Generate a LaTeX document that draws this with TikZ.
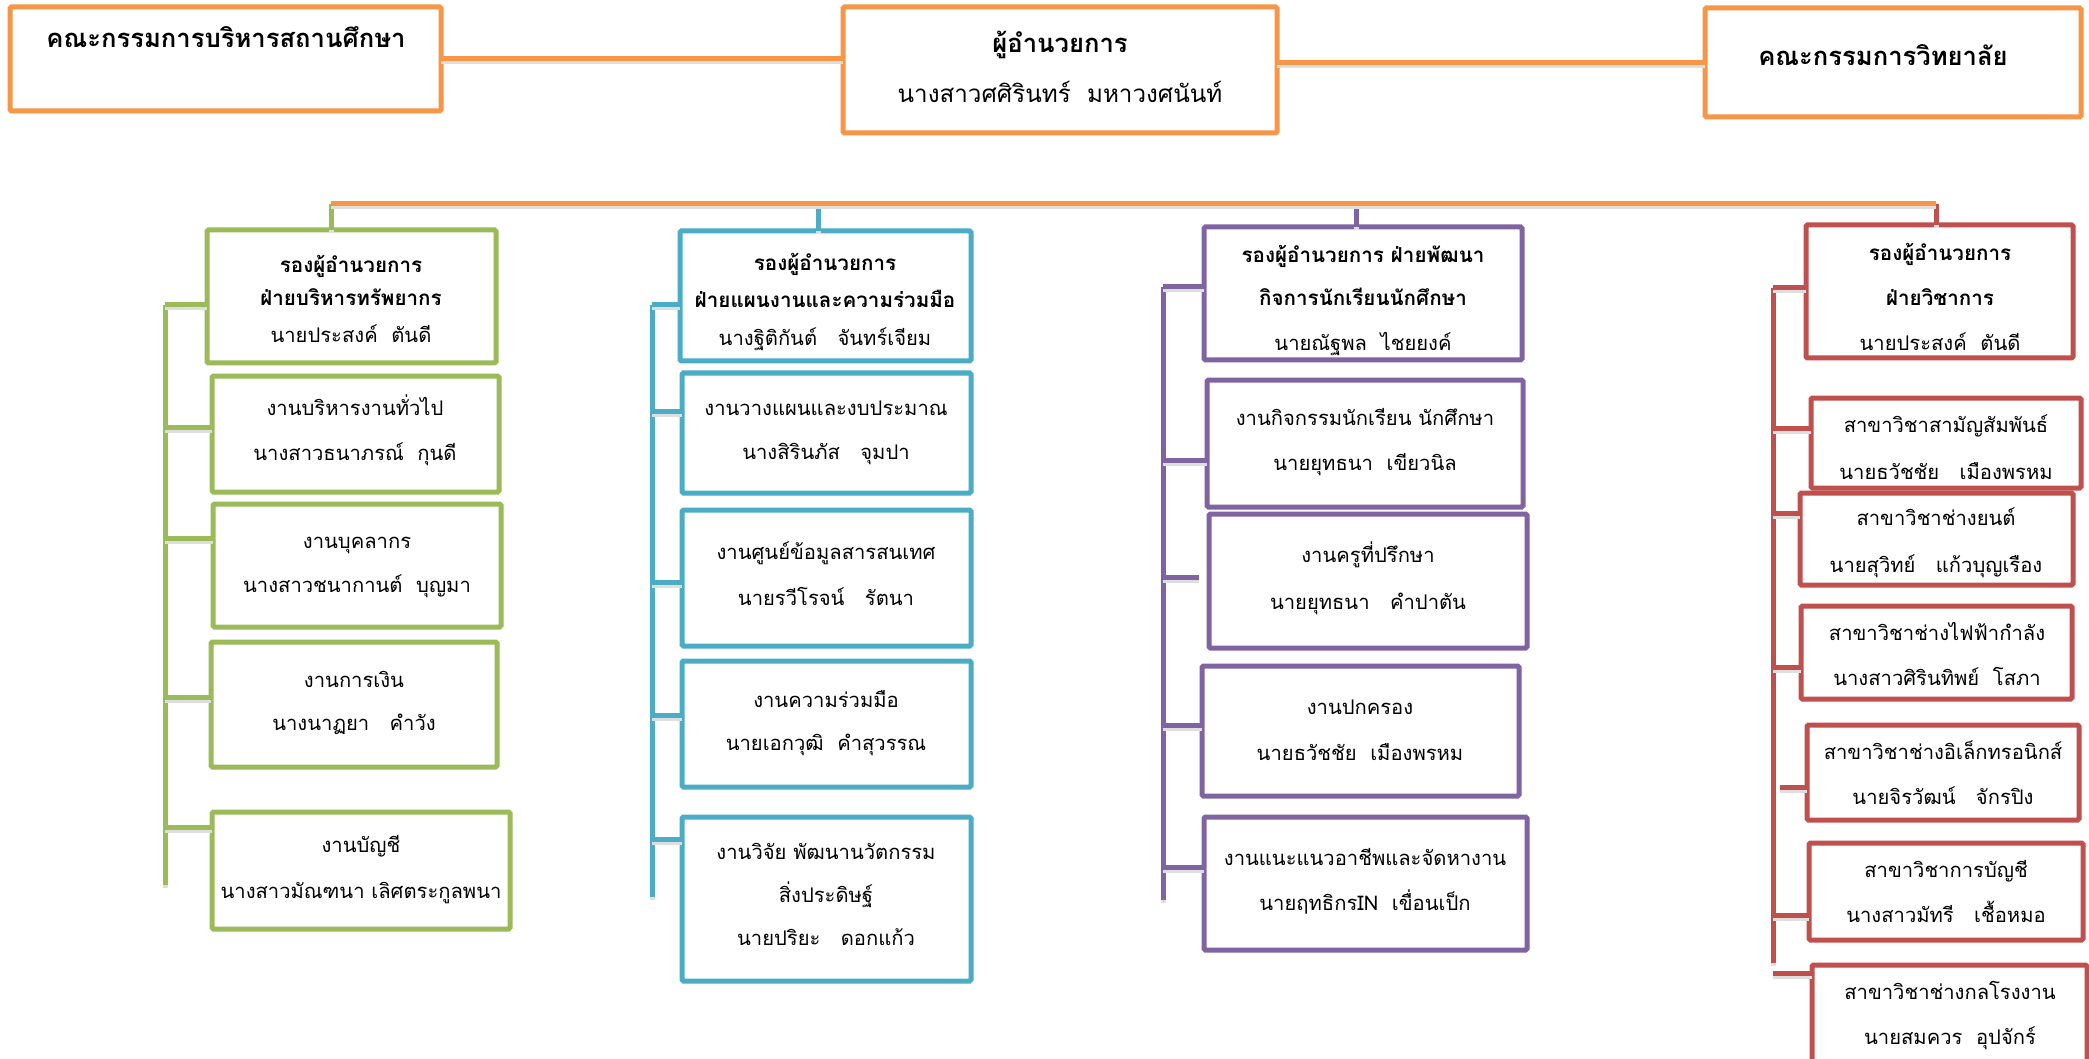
\documentclass[tikz,border=0pt]{standalone}
\usepackage{fontspec}
\newfontfamily\thai[Script=Thai]{Loma}
\usetikzlibrary{calc}
\definecolor{co}{HTML}{F79646}
\definecolor{cg}{HTML}{9BBB59}
\definecolor{cb}{HTML}{4BACC6}
\definecolor{cp}{HTML}{8064A2}
\definecolor{cr}{HTML}{C0504D}
\tikzset{
  box/.style={draw=#1, line width=5pt, rounded corners=1.5pt, fill=white, inner sep=0pt, outer sep=0pt},
  txt/.style={font=\thai\fontsize{20.2}{24}\selectfont, anchor=mid, inner sep=0pt},
  btxt/.style={font=\thai\bfseries\fontsize{20.6}{24}\selectfont, anchor=mid, inner sep=0pt},
  ttxt/.style={font=\thai\fontsize{24.2}{28}\selectfont, anchor=mid, inner sep=0pt},
  tbtxt/.style={font=\thai\bfseries\fontsize{25.6}{30}\selectfont, anchor=mid, inner sep=0pt},
  cn/.style={draw=#1, line width=5pt, preaction={draw=black!13, line width=5pt, transform canvas={yshift=-3pt}}},
}
\newcommand\bx[6]{\node[box=#2, minimum width={#5-#3}, minimum height={#6-#4}] (#1) at ({(#3+#5)/2},{(#4+#6)/2}) {};}
\newcommand\tx[5]{\node[#2] (#1) at (#3,#4) {#5};}
\begin{document}
\begin{tikzpicture}[x=1pt,y=-1pt]
\clip (0,0) rectangle (2089,1059);
\fill[white] (0,0) rectangle (2089,1059);
% ---------- coordinates ----------
\coordinate (gs) at (331,204);
\coordinate (bs) at (818,204);
\coordinate (ps) at (1356,204);
\coordinate (rs) at (1936,204);
\coordinate (gtop) at (165,305); \coordinate (gbot) at (165,885);
\coordinate (btop) at (652,305); \coordinate (bbot) at (652,897);
\coordinate (ptop) at (1163,287); \coordinate (pbot) at (1163,900);
\coordinate (rtop) at (1773,288); \coordinate (rbot) at (1773,963);
\coordinate (gt1) at (165,427); \coordinate (gt2) at (165,538); \coordinate (gt3) at (165,697); \coordinate (gt4) at (165,827);
\coordinate (bt1) at (652,411); \coordinate (bt2) at (652,582); \coordinate (bt3) at (652,715); \coordinate (bt4) at (652,839);
\coordinate (pt1) at (1163,460); \coordinate (pt2) at (1163,577); \coordinate (pt3) at (1163,725); \coordinate (pt4) at (1163,867);
\coordinate (rt1) at (1773,428); \coordinate (rt2) at (1773,513); \coordinate (rt3) at (1773,667); \coordinate (rt4) at (1780,787); \coordinate (rt5) at (1773,915); \coordinate (rt6) at (1773,973);
% ---------- boxes ----------
\bx{tl}{co}{10}{7}{441}{111}
\bx{dir}{co}{843}{7}{1277}{133}
\bx{tr}{co}{1705}{8}{2081}{117}
\bx{g0}{cg}{207}{230}{496}{363}
\bx{g1}{cg}{212}{376}{499}{492}
\bx{g2}{cg}{213}{504}{501}{627}
\bx{g3}{cg}{211}{642}{497}{767}
\bx{g4}{cg}{212}{812}{510}{929}
\bx{b0}{cb}{680}{231}{971}{361}
\bx{b1}{cb}{682}{373}{971}{493}
\bx{b2}{cb}{682}{510}{971}{646}
\bx{b3}{cb}{682}{661}{971}{787}
\bx{b4}{cb}{682}{817}{971}{981}
\bx{p0}{cp}{1204}{227}{1522}{360}
\bx{p1}{cp}{1207}{380}{1523}{507}
\bx{p2}{cp}{1209}{514}{1527}{648}
\bx{p3}{cp}{1202}{666}{1519}{796}
\bx{p4}{cp}{1204}{817}{1527}{950}
\bx{r0}{cr}{1806}{225}{2073}{358}
\bx{r1}{cr}{1811}{398}{2081}{488}
\bx{r2}{cr}{1800}{493}{2073}{585}
\bx{r3}{cr}{1801}{606}{2072}{699}
\bx{r4}{cr}{1807}{725}{2079}{820}
\bx{r5}{cr}{1809}{843}{2083}{940}
\bx{r6}{cr}{1812}{965}{2087}{1075}
% ---------- connectors ----------
\draw[cn=co] (tl.east) -- (tl.east -| dir.west);
\draw[cn=co] (tr.west) -- (tr.west -| dir.east);
\draw[cn=cg] (gs) -- (gs |- g0.north);
\draw[cn=cb] (bs) -- (bs |- b0.north);
\draw[cn=cp] (ps) -- (ps |- p0.north);
\draw[cn=cr] (rs) -- (rs |- r0.north);
\draw[cn=co] (gs) -- (rs);
% green
\draw[cn=cg] (gtop) -- (gbot);
\draw[cn=cg] (gtop) -- (gtop -| g0.west);
\draw[cn=cg] (gt1) -- (gt1 -| g1.west);
\draw[cn=cg] (gt2) -- (gt2 -| g2.west);
\draw[cn=cg] (gt3) -- (gt3 -| g3.west);
\draw[cn=cg] (gt4) -- (gt4 -| g4.west);
% blue
\draw[cn=cb] (btop) -- (bbot);
\draw[cn=cb] (btop) -- (btop -| b0.west);
\draw[cn=cb] (bt1) -- (bt1 -| b1.west);
\draw[cn=cb] (bt2) -- (bt2 -| b2.west);
\draw[cn=cb] (bt3) -- (bt3 -| b3.west);
\draw[cn=cb] (bt4) -- (bt4 -| b4.west);
% purple
\draw[cn=cp] (ptop) -- (pbot);
\draw[cn=cp] (ptop) -- (ptop -| p0.west);
\draw[cn=cp] (pt1) -- (pt1 -| p1.west);
\draw[cn=cp] (pt2) -- ($(pt2 -| p2.west)+(-10,0)$);
\draw[cn=cp] (pt3) -- (pt3 -| p3.west);
\draw[cn=cp] (pt4) -- (pt4 -| p4.west);
% red
\draw[cn=cr] (rtop) -- (rbot);
\draw[cn=cr] (rtop) -- (rtop -| r0.west);
\draw[cn=cr] (rt1) -- (rt1 -| r1.west);
\draw[cn=cr] (rt2) -- (rt2 -| r2.west);
\draw[cn=cr] (rt3) -- (rt3 -| r3.west);
\draw[cn=cr] (rt4) -- (rt4 -| r4.west);
\draw[cn=cr] (rt5) -- (rt5 -| r5.west);
\draw[cn=cr] (rt6) -- (rt6 -| r6.west);
% ---------- texts ----------
\tx{tlt}{tbtxt}{226}{45}{คณะกรรมการบริหารสถานศึกษา}
\tx{dira}{tbtxt}{1060}{50}{ผู้อำนวยการ}
\tx{dirb}{ttxt}{1060}{100}{นางสาวศศิรินทร์~~มหาวงศนันท์}
\tx{trt}{tbtxt}{1883}{63}{คณะกรรมการวิทยาลัย}
% green
\tx{g0a}{btxt}{351}{270}{รองผู้อำนวยการ}
\tx{g0b}{btxt}{351}{303}{ฝ่ายบริหารทรัพยากร}
\tx{g0c}{txt}{351}{340}{นายประสงค์~~ตันดี}
\tx{g1a}{txt}{355}{413}{งานบริหารงานทั่วไป}
\tx{g1b}{txt}{355}{458}{นางสาวธนาภรณ์~~กุนดี}
\tx{g2a}{txt}{357}{546}{งานบุคลากร}
\tx{g2b}{txt}{357}{590}{นางสาวชนากานต์~~บุญมา}
\tx{g3a}{txt}{354}{685}{งานการเงิน}
\tx{g3b}{txt}{354}{728}{นางนาฏยา~~~คำวัง}
\tx{g4a}{txt}{361}{850}{งานบัญชี}
\tx{g4b}{txt}{361}{896}{นางสาวมัณฑนา เลิศตระกูลพนา}
% blue
\tx{b0a}{btxt}{825}{268}{รองผู้อำนวยการ}
\tx{b0b}{btxt}{825}{305}{ฝ่ายแผนงานและความร่วมมือ}
\tx{b0c}{txt}{825}{343}{นางฐิติกันต์~~~จันทร์เจียม}
\tx{b1a}{txt}{826}{413}{งานวางแผนและงบประมาณ}
\tx{b1b}{txt}{826}{457}{นางสิรินภัส~~~จุมปา}
\tx{b2a}{txt}{826}{557}{งานศูนย์ข้อมูลสารสนเทศ}
\tx{b2b}{txt}{826}{603}{นายรวีโรจน์~~~รัตนา}
\tx{b3a}{txt}{826}{705}{งานความร่วมมือ}
\tx{b3b}{txt}{826}{748}{นายเอกวุฒิ~~คำสุวรรณ}
\tx{b4a}{txt}{826}{857}{งานวิจัย พัฒนานวัตกรรม}
\tx{b4b}{txt}{826}{900}{สิ่งประดิษฐ์}
\tx{b4c}{txt}{826}{943}{นายปริยะ~~~ดอกแก้ว}
% purple
\tx{p0a}{btxt}{1363}{260}{รองผู้อำนวยการ ฝ่ายพัฒนา}
\tx{p0b}{btxt}{1363}{303}{กิจการนักเรียนนักศึกษา}
\tx{p0c}{txt}{1363}{348}{นายณัฐพล~~ไชยยงค์}
\tx{p1a}{txt}{1365}{423}{งานกิจกรรมนักเรียน นักศึกษา}
\tx{p1b}{txt}{1365}{468}{นายยุทธนา~~เขียวนิล}
\tx{p2a}{txt}{1368}{560}{งานครูที่ปรึกษา}
\tx{p2b}{txt}{1368}{607}{นายยุทธนา~~~คำปาตัน}
\tx{p3a}{txt}{1360}{712}{งานปกครอง}
\tx{p3b}{txt}{1360}{758}{นายธวัชชัย~~เมืองพรหม}
\tx{p4a}{txt}{1365}{863}{งานแนะแนวอาชีพและจัดหางาน}
\tx{p4b}{txt}{1365}{908}{นายฤทธิกรIN~~เขื่อนเป็ก}
% red
\tx{r0a}{btxt}{1940}{258}{รองผู้อำนวยการ}
\tx{r0b}{btxt}{1940}{303}{ฝ่ายวิชาการ}
\tx{r0c}{txt}{1940}{348}{นายประสงค์~~ตันดี}
\tx{r1a}{txt}{1946}{430}{สาขาวิชาสามัญสัมพันธ์}
\tx{r1b}{txt}{1946}{477}{นายธวัชชัย~~~เมืองพรหม}
\tx{r2a}{txt}{1936}{523}{สาขาวิชาช่างยนต์}
\tx{r2b}{txt}{1936}{570}{นายสุวิทย์~~~แก้วบุญเรือง}
\tx{r3a}{txt}{1937}{638}{สาขาวิชาช่างไฟฟ้ากำลัง}
\tx{r3b}{txt}{1937}{683}{นางสาวศิรินทิพย์~~โสภา}
\tx{r4a}{txt}{1943}{757}{สาขาวิชาช่างอิเล็กทรอนิกส์}
\tx{r4b}{txt}{1943}{802}{นายจิรวัฒน์~~~จักรปิง}
\tx{r5a}{txt}{1946}{875}{สาขาวิชาการบัญชี}
\tx{r5b}{txt}{1946}{920}{นางสาวมัทรี~~~เชื้อหมอ}
\tx{r6a}{txt}{1950}{997}{สาขาวิชาช่างกลโรงงาน}
\tx{r6b}{txt}{1950}{1042}{นายสมควร~~อุปจักร์}
\end{tikzpicture}
\end{document}
